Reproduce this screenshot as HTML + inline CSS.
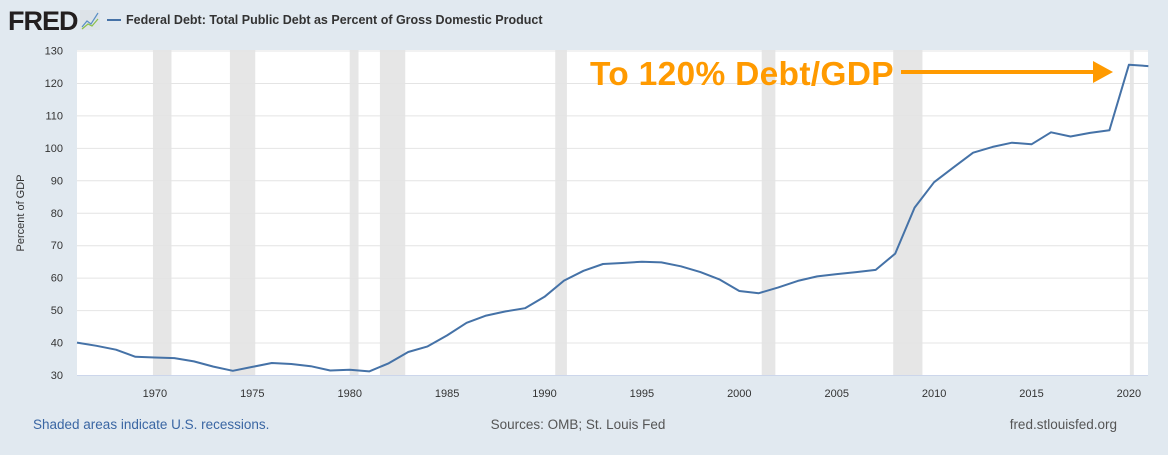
<!DOCTYPE html>
<html><head><meta charset="utf-8"><style>
body{margin:0;width:1168px;height:450px;background:#e1e9f0;font-family:"Liberation Sans",Arial,sans-serif;overflow:hidden}
</style></head><body>
<svg id="s" width="1168" height="450" xmlns="http://www.w3.org/2000/svg" font-family="Liberation Sans, Arial, sans-serif">
<text x="8" y="30" font-size="27" font-weight="bold" fill="#231f20" letter-spacing="-1">FRED</text>
<rect x="80" y="10" width="20" height="20" fill="#dde3e8"/>
<polyline points="82,27 87,21 91,24 98,13" fill="none" stroke="#5a8fc4" stroke-width="1.2"/>
<polyline points="82,29 88,24 92,26 98,19" fill="none" stroke="#8bbf4a" stroke-width="1.2"/>
<line x1="107" y1="20" x2="121" y2="20" stroke="#4572a7" stroke-width="2"/>
<text x="126" y="24" font-size="12.5" font-weight="bold" fill="#333">Federal Debt: Total Public Debt as Percent of Gross Domestic Product</text>
<rect x="77" y="50" width="1071" height="325" fill="#fff"/>
<g id="rec" fill="#e6e6e6"></g>
<g id="grid" stroke="#e4e4e4" stroke-width="1"></g>
<line x1="77" y1="375.5" x2="1148" y2="375.5" stroke="#ccd6eb"/>
<g id="ylab" font-size="11" fill="#333" text-anchor="end"></g>
<g id="xlab" font-size="11" fill="#333" text-anchor="middle"></g>
<text transform="translate(24,213) rotate(-90)" font-size="11" fill="#333" text-anchor="middle">Percent of GDP</text>
<polyline id="ln" fill="none" stroke="#4572a7" stroke-width="2" stroke-linejoin="round"/>
<text x="590" y="85" font-size="33.5" font-weight="bold" fill="#ff9a00" letter-spacing="0.3">To 120% Debt/GDP</text>
<line x1="901" y1="72" x2="1098" y2="72" stroke="#ff9a00" stroke-width="4"/>
<polygon points="1093,61 1113,72 1093,83" fill="#ff9a00"/>
<text x="33" y="429" font-size="13.5" fill="#3a66a3">Shaded areas indicate U.S. recessions.</text>
<text x="578" y="429" font-size="13.5" fill="#555" text-anchor="middle">Sources: OMB; St. Louis Fed</text>
<text x="1117" y="429" font-size="13.5" fill="#555" text-anchor="end">fred.stlouisfed.org</text>
</svg>
<script>
const X=y=>77+(y-1966)*19.48, Y=v=>375-(v-30)*3.245, NS="http://www.w3.org/2000/svg";
function el(p,t,a,txt){const e=document.createElementNS(NS,t);for(const k in a)e.setAttribute(k,a[k]);if(txt)e.textContent=txt;document.getElementById(p).appendChild(e);}
[[1969.9,1970.85],[1973.85,1975.15],[1980.0,1980.45],[1981.55,1982.85],[1990.55,1991.15],[2001.15,2001.85],[2007.9,2009.4],[2020.05,2020.25]].forEach(r=>el("rec","rect",{x:X(r[0]),y:50,width:X(r[1])-X(r[0]),height:325}));
for(let v=40;v<=130;v+=10)el("grid","line",{x1:77,x2:1148,y1:Y(v)+.5,y2:Y(v)+.5});
for(let v=30;v<=130;v+=10)el("ylab","text",{x:63,y:Y(v)+4},String(v));
for(let y=1970;y<=2020;y+=5)el("xlab","text",{x:X(y),y:397},String(y));
const d=[40,39,37.8,35.6,35.4,35.2,34.2,32.6,31.3,32.5,33.7,33.4,32.7,31.4,31.6,31.1,33.6,37.1,38.8,42.2,46.1,48.3,49.6,50.6,54.1,59.1,62.1,64.2,64.5,64.9,64.7,63.5,61.7,59.4,55.9,55.2,57.0,59.0,60.4,61.1,61.7,62.4,67.4,81.6,89.4,94.0,98.5,100.3,101.6,101.1,104.8,103.5,104.6,105.4,125.6,125.2];
document.getElementById("ln").setAttribute("points",d.map((v,i)=>X(1966+i).toFixed(1)+","+Y(v).toFixed(1)).join(" "));
</script>
</body></html>
